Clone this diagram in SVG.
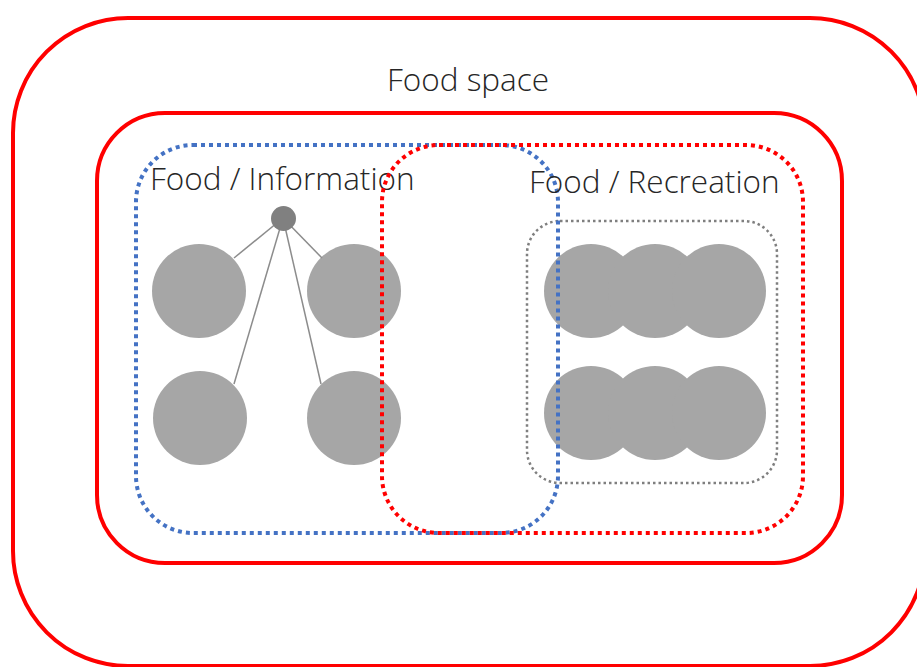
<svg xmlns="http://www.w3.org/2000/svg" width="917" height="667" viewBox="0 0 917 667">
<style>
.solid{fill:none;stroke:#FF0000;stroke-width:4}
.dotb{fill:none;stroke:#4472C4;stroke-width:4;stroke-dasharray:4 4}
.dotr{fill:none;stroke:#FF0000;stroke-width:4;stroke-dasharray:4 4}
.dotg{fill:none;stroke:#7F7F7F;stroke-width:2.5;stroke-dasharray:2.5 3}
.c{fill:#A6A6A6}
.hub{fill:#808080}
.lbl{font-family:"Open Sans","Liberation Sans",sans-serif;font-weight:300;font-size:31.5px;fill:#262626}
.ln{stroke:#8C8C8C;stroke-width:1.5;fill:none}
</style>
<rect width="917" height="667" fill="#FFFFFF"/>
<g id="food-space">
<rect class="solid" x="13" y="18" width="912" height="648" rx="115" ry="115"/>
<text class="lbl" x="468" y="91" text-anchor="middle">Food space</text>
</g>
<g id="inner-space">
<rect class="solid" x="97" y="113" width="745" height="450" rx="68" ry="68"/>
</g>
<g id="info-items">
<circle class="c" cx="199" cy="291" r="47"/>
<circle class="c" cx="354" cy="291" r="47"/>
<circle class="c" cx="200" cy="418" r="47"/>
<circle class="c" cx="354" cy="418" r="47"/>
</g>
<g id="recreation-items">
<circle class="c" cx="591" cy="291" r="47"/>
<circle class="c" cx="655" cy="291" r="47"/>
<circle class="c" cx="719" cy="291" r="47"/>
<circle class="c" cx="591" cy="413" r="47"/>
<circle class="c" cx="655" cy="413" r="47"/>
<circle class="c" cx="719" cy="413" r="47"/>
</g>
<g id="connectors">
<line class="ln" x1="283" y1="218" x2="234" y2="258"/>
<line class="ln" x1="283" y1="218" x2="322" y2="258"/>
<line class="ln" x1="283" y1="218" x2="234" y2="384"/>
<line class="ln" x1="283" y1="218" x2="321" y2="384"/>
</g>
<g id="hub">
<circle class="hub" cx="283.5" cy="218.5" r="12.5"/>
</g>
<g id="recreation-group">
<rect class="dotg" x="527" y="221" width="250" height="262" rx="33" ry="33"/>
</g>
<g id="food-information">
<rect class="dotb" x="136" y="145" width="422" height="388" rx="57" ry="57"/>
<text class="lbl" x="150" y="190">Food / Information</text>
</g>
<g id="food-recreation">
<rect class="dotr" x="382" y="145" width="421" height="388" rx="57" ry="57"/>
<text class="lbl" x="529" y="193">Food / Recreation</text>
</g>
</svg>
